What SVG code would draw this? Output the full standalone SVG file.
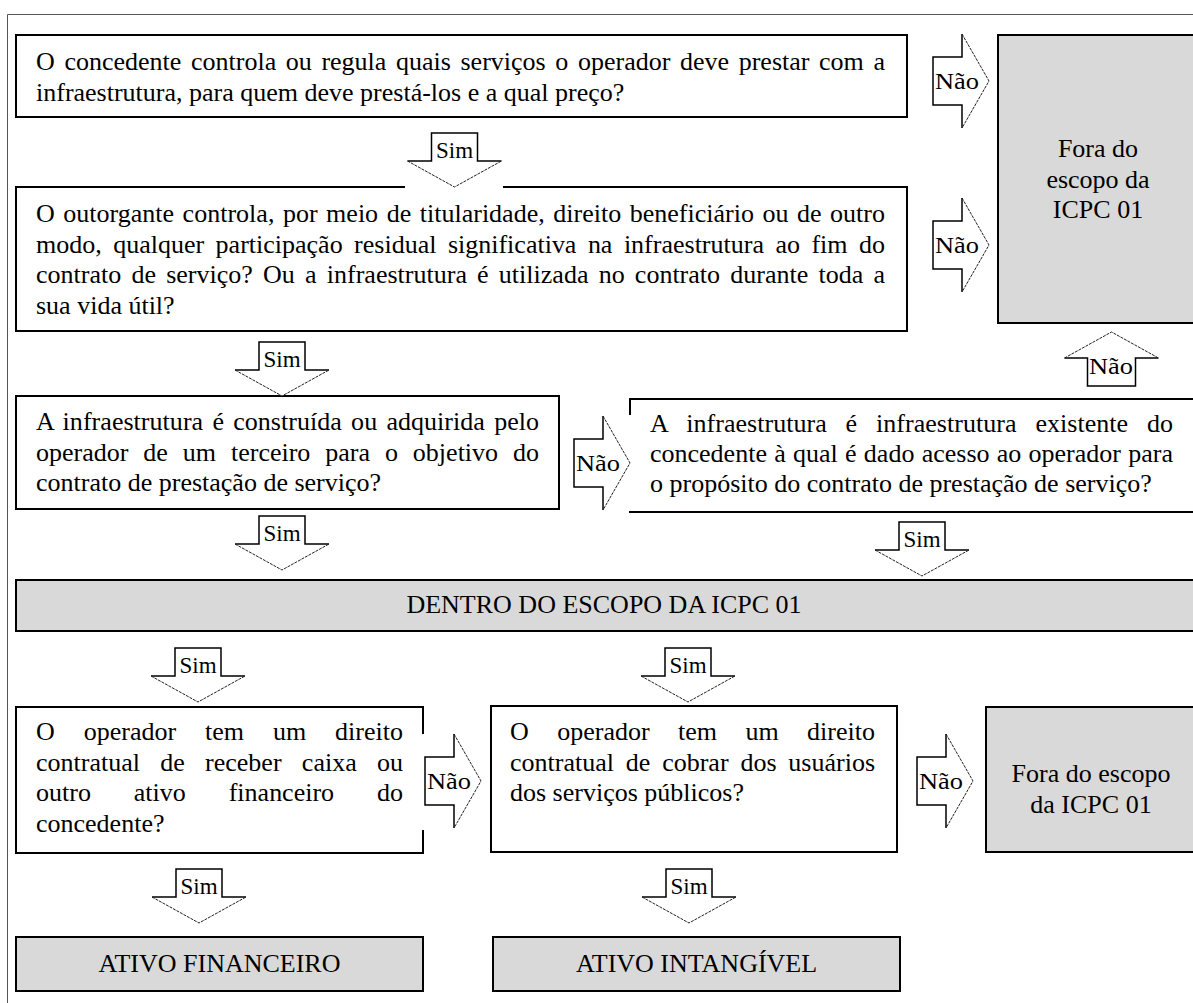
<svg xmlns="http://www.w3.org/2000/svg" width="1193" height="1003" viewBox="0 0 1193 1003">
<style>
.t{font-family:"Liberation Serif","Times New Roman",serif;font-size:26px;fill:#000}
.lbl{font-family:"Liberation Serif","Times New Roman",serif;font-size:23px;fill:#000}
.box{fill:#fff;stroke:#000;stroke-width:2}
.grey{fill:#d9d9d9;stroke:#000;stroke-width:2}
.solid{fill:none;stroke:#000;stroke-width:1.5}
.dash{fill:none;stroke:#222;stroke-width:1;stroke-dasharray:3 1}
</style>
<defs>
<g id="dn">
<path d="M-23,0H23V28H47L0,54L-47,28H-23Z" fill="#fff"/>
<path class="solid" d="M47,28H23V0H-23V28H-47"/>
<path class="dash" d="M-47,28L0,54L47,28"/>
</g>
<g id="rt">
<path d="M0,-24H29V-47L56,0L29,47V24H0Z" fill="#fff"/>
<path class="solid" d="M29,-47V-24H0V24H29V47"/>
<path class="dash" d="M29,-47L56,0L29,47"/>
</g>
<g id="up">
<path d="M0,0L47,26H24V54H-24V26H-47Z" fill="#fff"/>
<path class="solid" d="M-47,26H-24V54H24V26H47"/>
<path class="dash" d="M-47,26L0,0L47,26"/>
</g>
</defs>
<rect width="1193" height="1003" fill="#fff"/>
<path d="M7.5,1003V14.5H1193" fill="none" stroke="#555" stroke-width="1"/>

<g id="q1">
<rect class="box" x="16" y="35" width="891" height="82"/>
<text class="t" x="36" y="70" word-spacing="3.1" textLength="849" lengthAdjust="spacing">O concedente controla ou regula quais serviços o operador deve prestar com a</text>
<text class="t" x="36" y="100.5">infraestrutura, para quem deve prestá-los e a qual preço?</text>
</g>
<g id="q2">
<rect class="box" x="16" y="187" width="891" height="144"/>
<text class="t" x="36" y="222" word-spacing="2" textLength="849" lengthAdjust="spacing">O outorgante controla, por meio de titularidade, direito beneficiário ou de outro</text>
<text class="t" x="36" y="252.5" word-spacing="4.96" textLength="849" lengthAdjust="spacing">modo, qualquer participação residual significativa na infraestrutura ao fim do</text>
<text class="t" x="36" y="283" word-spacing="3.7" textLength="849" lengthAdjust="spacing">contrato de serviço? Ou a infraestrutura é utilizada no contrato durante toda a</text>
<text class="t" x="36" y="313.5">sua vida útil?</text>
</g>
<g id="fora1">
<rect class="grey" x="998" y="35" width="210" height="288"/>
<text class="t" x="1098" y="157" text-anchor="middle">Fora do</text>
<text class="t" x="1098" y="187.5" text-anchor="middle">escopo da</text>
<text class="t" x="1098" y="218" text-anchor="middle">ICPC 01</text>
</g>
<g id="q3">
<rect class="box" x="16" y="396" width="543" height="113"/>
<text class="t" x="36" y="430" word-spacing="2.7" textLength="503" lengthAdjust="spacing">A infraestrutura é construída ou adquirida pelo</text>
<text class="t" x="36" y="460.5" word-spacing="8.4" textLength="503" lengthAdjust="spacing">operador de um terceiro para o objetivo do</text>
<text class="t" x="36" y="491">contrato de prestação de serviço?</text>
</g>
<g id="q4">
<rect class="box" x="630" y="399" width="580" height="113"/>
<text class="t" x="650" y="432" word-spacing="12.3" textLength="523" lengthAdjust="spacing">A infraestrutura é infraestrutura existente do</text>
<text class="t" x="650" y="462" word-spacing="0.76" textLength="523" lengthAdjust="spacing">concedente à qual é dado acesso ao operador para</text>
<text class="t" x="650" y="492">o propósito do contrato de prestação de serviço?</text>
</g>
<g id="dentro">
<rect class="grey" x="16" y="580" width="1190" height="51"/>
<text class="t" x="604" y="613" text-anchor="middle">DENTRO DO ESCOPO DA ICPC 01</text>
</g>
<g id="q5">
<rect class="box" x="16" y="707" width="407" height="146"/>
<text class="t" x="36" y="740" word-spacing="22.4" textLength="367" lengthAdjust="spacing">O operador tem um direito</text>
<text class="t" x="36" y="770.5" word-spacing="13.8" textLength="367" lengthAdjust="spacing">contratual de receber caixa ou</text>
<text class="t" x="36" y="801" word-spacing="36.4" textLength="367" lengthAdjust="spacing">outro ativo financeiro do</text>
<text class="t" x="36" y="831.5">concedente?</text>
</g>
<g id="q6">
<rect class="box" x="491" y="706" width="406" height="146"/>
<text class="t" x="510" y="740" word-spacing="21.9" textLength="365" lengthAdjust="spacing">O operador tem um direito</text>
<text class="t" x="510" y="770.5" word-spacing="5.3" textLength="365" lengthAdjust="spacing">contratual de cobrar dos usuários</text>
<text class="t" x="510" y="801">dos serviços públicos?</text>
</g>
<g id="fora2">
<rect class="grey" x="986" y="707" width="220" height="145"/>
<text class="t" x="1091" y="782" text-anchor="middle">Fora do escopo</text>
<text class="t" x="1091" y="812.5" text-anchor="middle">da ICPC 01</text>
</g>
<g id="ativoFin">
<rect class="grey" x="16" y="937" width="407" height="54"/>
<text class="t" x="219.5" y="972" text-anchor="middle">ATIVO FINANCEIRO</text>
</g>
<g id="ativoInt">
<rect class="grey" x="493" y="937" width="407" height="54"/>
<text class="t" x="696.5" y="972" text-anchor="middle">ATIVO INTANGÍVEL</text>
</g>

<g id="connectors">
<rect x="405" y="185" width="98" height="4" fill="#fff"/>
<rect x="626" y="415" width="8" height="96" fill="#fff"/>
<rect x="420" y="734" width="6" height="96" fill="#fff"/>

<use href="#dn" x="454.5" y="133"/>
<text class="lbl" x="454.5" y="158" text-anchor="middle">Sim</text>

<use href="#rt" x="933" y="81"/>
<text class="lbl" x="935" y="89" textLength="44" lengthAdjust="spacingAndGlyphs">Não</text>
<use href="#rt" x="933" y="245"/>
<text class="lbl" x="935" y="253" textLength="44" lengthAdjust="spacingAndGlyphs">Não</text>

<use href="#up" x="1111.5" y="332"/>
<text class="lbl" x="1089" y="374" textLength="44" lengthAdjust="spacingAndGlyphs">Não</text>

<use href="#dn" x="282" y="342"/>
<text class="lbl" x="282" y="367" text-anchor="middle">Sim</text>

<use href="#rt" x="574" y="463"/>
<text class="lbl" x="576" y="471" textLength="44" lengthAdjust="spacingAndGlyphs">Não</text>

<use href="#dn" x="282" y="516"/>
<text class="lbl" x="282" y="541" text-anchor="middle">Sim</text>
<use href="#dn" x="922" y="522"/>
<text class="lbl" x="922" y="547" text-anchor="middle">Sim</text>

<use href="#dn" x="198" y="648"/>
<text class="lbl" x="198" y="673" text-anchor="middle">Sim</text>
<use href="#dn" x="688" y="648"/>
<text class="lbl" x="688" y="673" text-anchor="middle">Sim</text>

<use href="#rt" x="425" y="781"/>
<text class="lbl" x="427" y="789" textLength="44" lengthAdjust="spacingAndGlyphs">Não</text>
<use href="#rt" x="917" y="781"/>
<text class="lbl" x="919" y="789" textLength="44" lengthAdjust="spacingAndGlyphs">Não</text>

<use href="#dn" x="199" y="869"/>
<text class="lbl" x="199" y="894" text-anchor="middle">Sim</text>
<use href="#dn" x="689" y="869"/>
<text class="lbl" x="689" y="894" text-anchor="middle">Sim</text>
</g>
</svg>
